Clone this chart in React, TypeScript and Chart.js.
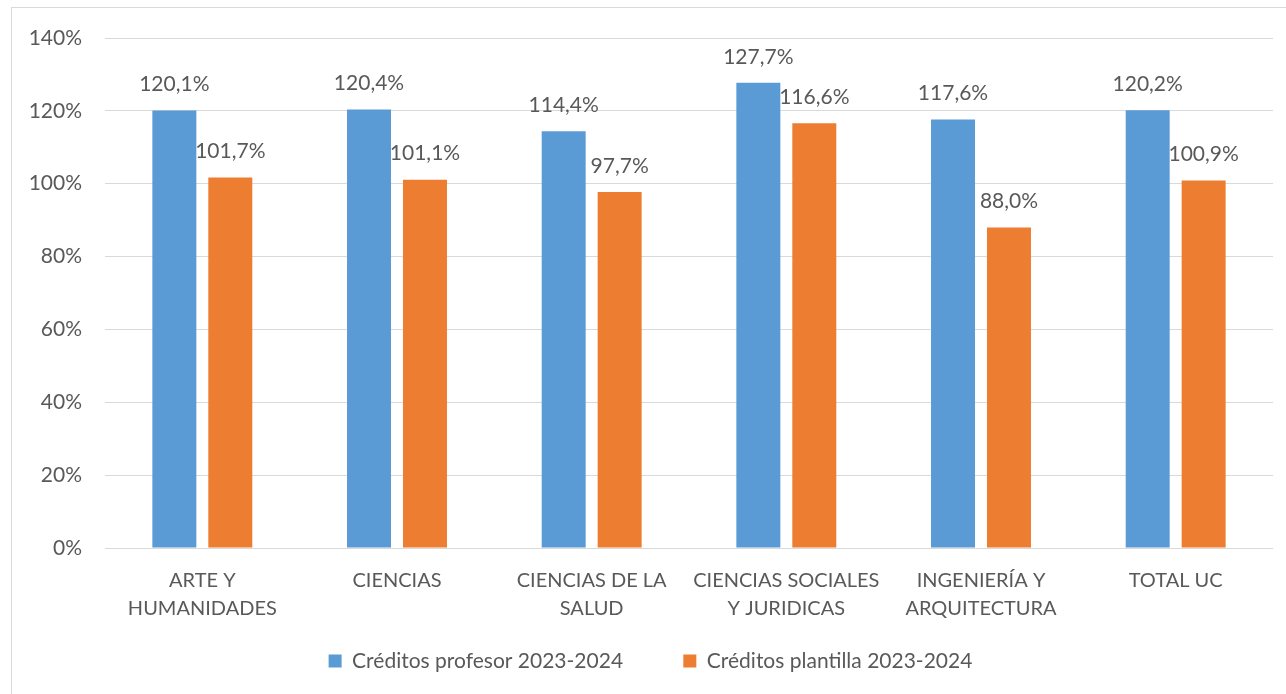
import React, { useEffect, useRef } from "react";
import { Chart, registerables } from "chart.js";

Chart.register(...registerables);

const categories: (string | string[])[] = [
  ["ARTE Y", "HUMANIDADES"],
  "CIENCIAS",
  ["CIENCIAS DE LA", "SALUD"],
  ["CIENCIAS SOCIALES", "Y JURIDICAS"],
  ["INGENIERÍA Y", "ARQUITECTURA"],
  "TOTAL UC",
];
const profesorValues = [120.1, 120.4, 114.4, 127.7, 117.6, 120.2];
const plantillaValues = [101.7, 101.1, 97.7, 116.6, 88.0, 100.9];
const seriesNames = ["Créditos profesor 2023-2024", "Créditos plantilla 2023-2024"];
const yTicks = [0, 20, 40, 60, 80, 100, 120, 140];

const FONT = "Lato, 'Open Sans', sans-serif";
const TEXT = "#595959";

const dataLabels = {
  id: "dataLabels",
  afterDatasetsDraw(chart: any) {
    const ctx = chart.ctx;
    ctx.save();
    ctx.font = `21px ${FONT}`;
    ctx.fillStyle = TEXT;
    ctx.textAlign = "center";
    ctx.textBaseline = "middle";
    chart.data.datasets.forEach((ds: any, i: number) => {
      const meta = chart.getDatasetMeta(i);
      meta.data.forEach((bar: any, j: number) => {
        const v = ds.data[j] as number;
        ctx.fillText(v.toFixed(1).replace(".", ",") + "%", bar.x, bar.y - 26);
      });
    });
    ctx.restore();
  },
};

export default function App() {
  const ref = useRef<HTMLCanvasElement>(null);
  useEffect(() => {
    if (!ref.current) return;
    const chart = new Chart(ref.current, {
      type: "bar",
      data: {
        labels: categories,
        datasets: [
          {
            label: seriesNames[0],
            data: profesorValues,
            backgroundColor: "#5B9BD5",
            categoryPercentage: 0.575,
            barPercentage: 0.786,
          },
          {
            label: seriesNames[1],
            data: plantillaValues,
            backgroundColor: "#ED7D31",
            categoryPercentage: 0.575,
            barPercentage: 0.786,
          },
        ],
      },
      options: {
        responsive: false,
        animation: false,
        layout: { padding: { top: 38, right: 13, bottom: 12.5, left: 28 } },
        scales: {
          x: {
            grid: { display: false },
            border: { display: false },
            ticks: {
              color: TEXT,
              font: { family: FONT, size: 20, lineHeight: 1.4 },
              padding: 11,
              maxRotation: 0,
              autoSkip: false,
            },
            afterFit: (s: any) => {
              s.height = 74.5;
            },
          },
          y: {
            min: 0,
            max: 140,
            afterBuildTicks: (s: any) => {
              s.ticks = yTicks.map((v) => ({ value: v }));
            },
            grid: { color: "#D9D9D9", lineWidth: 1, drawTicks: false },
            border: { display: false },
            ticks: {
              color: TEXT,
              font: { family: FONT, size: 21 },
              padding: 23,
              callback: (v: any) => v + "%",
            },
            afterFit: (s: any) => {
              s.width = 77;
            },
          },
        },
        plugins: {
          legend: {
            position: "bottom",
            labels: {
              color: TEXT,
              font: { family: FONT, size: 21 },
              boxWidth: 13,
              boxHeight: 13,
              padding: 28,
              generateLabels: (c: any) => {
                const items = Chart.defaults.plugins.legend.labels.generateLabels(c);
                return items.map((it: any, i: number) =>
                  i < items.length - 1 ? { ...it, text: it.text + "      " } : it
                );
              },
            },
          },
          tooltip: { enabled: false },
        },
      },
      plugins: [dataLabels],
    });
    return () => chart.destroy();
  }, []);
  return (
    <div
      style={{
        position: "fixed",
        left: 0,
        top: 0,
        width: 1286,
        height: 694,
        overflow: "hidden",
        background: "#fff",
      }}
    >
      <div
        style={{
          position: "absolute",
          left: 11,
          top: 7,
          width: 1300,
          height: 710,
          border: "1px solid #D9D9D9",
          boxSizing: "border-box",
        }}
      />
      <canvas
        ref={ref}
        width={1286}
        height={694}
        style={{ position: "absolute", left: 0, top: 0, width: 1286, height: 694 }}
      />
    </div>
  );
}
